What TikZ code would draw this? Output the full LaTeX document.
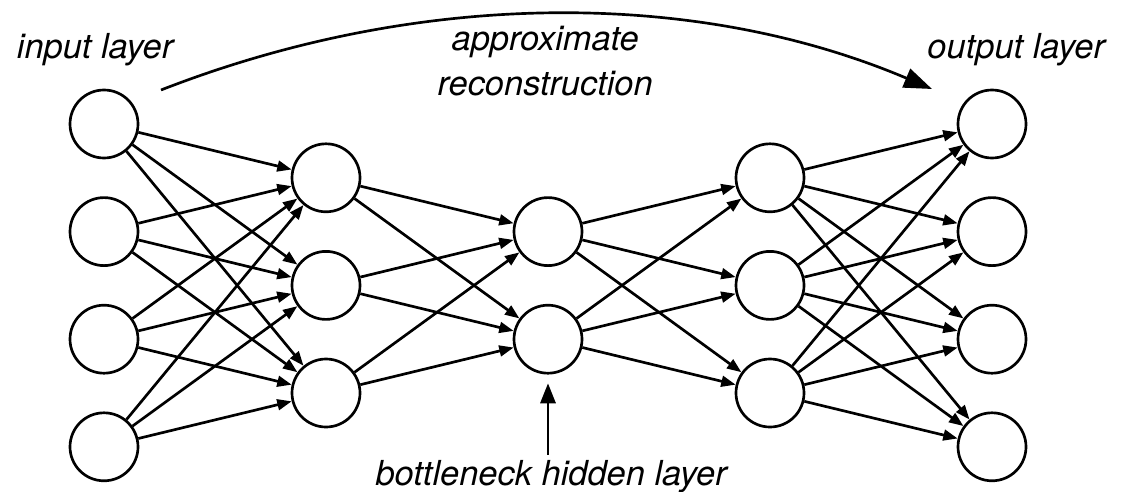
\documentclass[tikz,border=0pt]{standalone}
\usepackage{fontspec}
\setmainfont{TeX Gyre Heros}
\usepackage{tikz}
\usetikzlibrary{positioning, arrows.meta}

\begin{document}
\begin{tikzpicture}[
  neuron/.style={
    circle, draw=black, fill=white, minimum size=1.7cm, inner sep=0pt,
    line width=1.9pt
  },
  txt/.style={
    font=\fontsize{24.5}{28.4}\selectfont\itshape, inner sep=0.333em
  },
  arrow/.style={
    -{Triangle[length=0.36cm,width=0.27cm]}, line width=1.9pt
  },
  midarrow/.style={
    -{Triangle[length=0.5cm,width=0.38cm]}, line width=1.9pt
  },
  bigarrow/.style={
    -{Triangle[length=0.7cm,width=0.5cm]}, line width=1.9pt
  },
  on grid
]

\useasboundingbox (0,0) rectangle (28.05,-12.3);

% Layer 1: input
\node[neuron] (i1) at (2.6,-3.1) {};
\node[neuron, below=2.69cm of i1] (i2) {};
\node[neuron, below=2.69cm of i2] (i3) {};
\node[neuron, below=2.69cm of i3] (i4) {};

% Layer 2: hidden
\node[neuron, below right=1.345cm and 5.55cm of i1] (h1) {};
\node[neuron, below=2.69cm of h1] (h2) {};
\node[neuron, below=2.69cm of h2] (h3) {};

% Layer 3: bottleneck
\node[neuron, below right=1.345cm and 5.55cm of h1] (b1) {};
\node[neuron, below=2.69cm of b1] (b2) {};

% Layer 4: hidden
\node[neuron, above right=1.345cm and 5.55cm of b1] (g1) {};
\node[neuron, below=2.69cm of g1] (g2) {};
\node[neuron, below=2.69cm of g2] (g3) {};

% Layer 5: output
\node[neuron, above right=1.345cm and 5.55cm of g1] (o1) {};
\node[neuron, below=2.69cm of o1] (o2) {};
\node[neuron, below=2.69cm of o2] (o3) {};
\node[neuron, below=2.69cm of o3] (o4) {};

% Connections between layers
\foreach \a in {1,...,4} \foreach \b in {1,2,3} \draw[arrow] (i\a) -- (h\b);
\foreach \a in {1,2,3} \foreach \b in {1,2} \draw[arrow] (h\a) -- (b\b);
\foreach \a in {1,2} \foreach \b in {1,2,3} \draw[arrow] (b\a) -- (g\b);
\foreach \a in {1,2,3} \foreach \b in {1,...,4} \draw[arrow] (g\a) -- (o\b);

% Labels
\node[txt, anchor=base west] (inlabel) at (0.3,-1.475) {input layer};
\node[txt, anchor=base east] (outlabel) at (27.75,-1.475) {output layer};
\node[txt, align=center, anchor=north] (recon) at (13.63,-0.52) {approximate\\[4pt]reconstruction};
\node[txt, anchor=base] (bneck) at (13.78,-12.125) {bottleneck hidden layer};

% Reconstruction arc
\coordinate (arcstart) at (4.025,-2.25);
\coordinate (arcend) at (23.3,-2.225);
\draw[bigarrow] (arcstart) .. controls (10.5,0.275) and (17.4,0.275) .. (arcend);

% Bottleneck pointer
\draw[midarrow, shorten >=0.22cm] (bneck.north -| b2) -- (b2.south);

\end{tikzpicture}
\end{document}
